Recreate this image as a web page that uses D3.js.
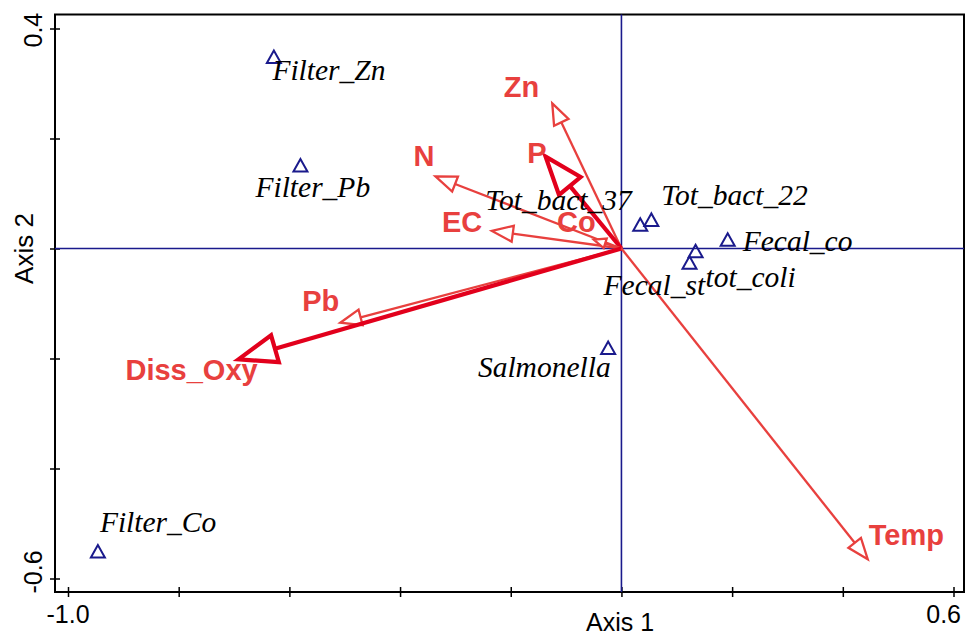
<!DOCTYPE html>
<html><head><meta charset="utf-8">
<script src="https://cdn.jsdelivr.net/npm/d3@7"></script>
<style>body{margin:0;background:#fff}svg{display:block}</style>
</head><body>
<svg id="c" width="966" height="637"></svg>
<script>
// ---- data ----
const sampleNames = ["Filter_Zn","Filter_Pb","Filter_Co","Salmonella","Tot_bact_37","Tot_bact_22","Fecal_co","Fecal_st","tot_coli"];
const sampleAxis1 = [-0.628,-0.580,-0.946,-0.024,0.034,0.054,0.192,0.134,0.123];
const sampleAxis2 = [0.348,0.151,-0.551,-0.181,0.043,0.052,0.016,-0.005,-0.026];

const varNames = ["Zn","P","N","EC","Co","Pb","Diss_Oxy","Temp"];
const varAxis1 = [-0.125,-0.137,-0.336,-0.234,-0.050,-0.508,-0.692,0.445];
const varAxis2 = [0.264,0.167,0.131,0.032,0.016,-0.135,-0.2015,-0.565];
const varStrong = [false,true,false,false,false,false,true,false];

const xTickValues = [-1.0,-0.8,-0.6,-0.4,-0.2,0,0.2,0.4,0.6];
const yTickValues = [0.4,0.2,0,-0.2,-0.4,-0.6];
const xTickLabels = ["-1.0","0.6"];
const yTickLabels = ["0.4","-0.6"];
const xAxisTitle = "Axis 1", yAxisTitle = "Axis 2";

// ---- layout (pixels) ----
const sampleLabelDx = [-1.5,-45,2,2.5,-155,10,15,-92,16];
const sampleLabelDy = [23,31.5,-20,29,-15,-15,11,44,24];
const sampleLabelAnchor = ["start","start","start","end","start","start","start","start","start"];
const varLabelDx = [-48.4,-18.3,-22,-50,-36.7,-38,-113,1];
const varLabelDy = [-6.6,6.6,-10,1,-8,-12,21,-14];

const L = 55, R = 964, T = 14.5, B = 592;
const x = d3.scaleLinear().domain([-1.0, 0.6]).range([68, 953.5]);
const y = d3.scaleLinear().domain([-0.6, 0.4]).range([578.5, 28.5]);

const svg = d3.select("#c");
const navy = "#1a1a8c", red = "#e8403e", red2 = "#e2001c";

// axes ticks crossing frame
svg.append("g").attr("transform",`translate(0,${B-5})`)
  .call(d3.axisBottom(x).tickValues(xTickValues).tickSize(10).tickFormat(""))
  .call(g=>{g.select(".domain").remove(); g.selectAll("line").attr("stroke","#000").attr("stroke-width",1.5);});
svg.append("g").attr("transform",`translate(${L+5},0)`)
  .call(d3.axisLeft(y).tickValues(yTickValues).tickSize(10).tickFormat(""))
  .call(g=>{g.select(".domain").remove(); g.selectAll("line").attr("stroke","#000").attr("stroke-width",1.5);});

// frame
svg.append("rect").attr("x",L).attr("y",T).attr("width",R-L).attr("height",B-T)
  .attr("fill","none").attr("stroke","#000").attr("stroke-width",2);

// zero lines
svg.append("line").attr("x1",L).attr("x2",R).attr("y1",y(0)).attr("y2",y(0)).attr("stroke",navy).attr("stroke-width",1.6);
svg.append("line").attr("x1",x(0)).attr("x2",x(0)).attr("y1",T).attr("y2",B).attr("stroke",navy).attr("stroke-width",1.6);

// tick labels
const tf = "'Liberation Sans', Arial, sans-serif";
svg.append("text").attr("x",x(-1.0)).attr("y",623).attr("text-anchor","middle")
  .attr("font-family",tf).attr("font-size",25).text(xTickLabels[0]);
svg.append("text").attr("x",961).attr("y",623).attr("text-anchor","end")
  .attr("font-family",tf).attr("font-size",25).text(xTickLabels[1]);
svg.append("text").attr("transform",`translate(42,${y(0.4)+19}) rotate(-90)`).attr("text-anchor","start")
  .attr("font-family",tf).attr("font-size",25).text(yTickLabels[0]);
svg.append("text").attr("transform",`translate(42,${y(-0.6)+15}) rotate(-90)`).attr("text-anchor","start")
  .attr("font-family",tf).attr("font-size",25).text(yTickLabels[1]);
svg.append("text").attr("x",620).attr("y",631).attr("text-anchor","middle")
  .attr("font-family",tf).attr("font-size",25).text(xAxisTitle);
svg.append("text").attr("transform",`translate(33,${y(0)}) rotate(-90)`).attr("text-anchor","middle")
  .attr("font-family",tf).attr("font-size",26).text(yAxisTitle);

// arrows
const ox = x(0), oy = y(0);
varNames.forEach((n,i)=>{
  const tx = x(varAxis1[i]), ty = y(varAxis2[i]);
  const dx = tx-ox, dy = ty-oy, len = Math.hypot(dx,dy);
  const ux = dx/len, uy = dy/len, nx = -uy, ny = ux;
  const strong = varStrong[i];
  const hl = strong ? 38 : (n==="Co" ? 12 : 21);
  const hw = strong ? 14 : (n==="Co" ? 5 : 8);
  const sw = strong ? 4.2 : 2.3;
  const col = strong ? red2 : red;
  const bx = tx-ux*hl, by = ty-uy*hl;
  svg.append("line").attr("x1",ox).attr("y1",oy).attr("x2",bx).attr("y2",by)
    .attr("stroke",col).attr("stroke-width",sw);
  svg.append("path").attr("d",`M${tx},${ty}L${bx+nx*hw},${by+ny*hw}L${bx-nx*hw},${by-ny*hw}Z`)
    .attr("fill","#fff").attr("stroke",col).attr("stroke-width",sw).attr("stroke-linejoin","miter");
});

// sample triangles
sampleNames.forEach((n,i)=>{
  const cx = x(sampleAxis1[i]), cy = y(sampleAxis2[i]);
  svg.append("path").attr("d",`M${cx},${cy-6.5}L${cx-7},${cy+6}L${cx+7},${cy+6}Z`)
    .attr("fill","none").attr("stroke",navy).attr("stroke-width",2);
});

// sample labels
sampleNames.forEach((n,i)=>{
  svg.append("text").attr("x",x(sampleAxis1[i])+sampleLabelDx[i]).attr("y",y(sampleAxis2[i])+sampleLabelDy[i])
    .attr("text-anchor",sampleLabelAnchor[i])
    .attr("font-family","'Liberation Serif','Times New Roman',serif").attr("font-style","italic")
    .attr("font-size",29.5).attr("fill","#000").text(n);
});

// variable labels
varNames.forEach((n,i)=>{
  svg.append("text").attr("x",x(varAxis1[i])+varLabelDx[i]).attr("y",y(varAxis2[i])+varLabelDy[i])
    .attr("font-family",tf).attr("font-weight","bold").attr("font-size",29).attr("fill",red).text(n);
});
</script>
</body></html>
